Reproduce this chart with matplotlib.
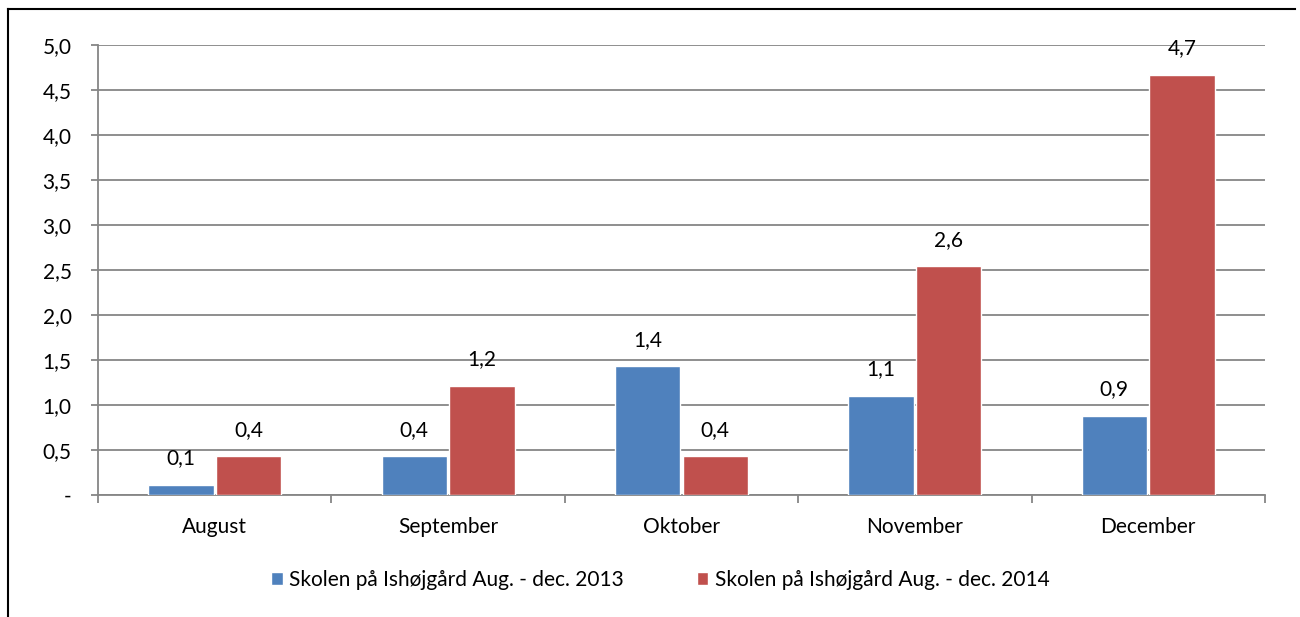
import matplotlib.pyplot as plt
import numpy as np
from matplotlib.lines import Line2D
from matplotlib.ticker import FuncFormatter, MultipleLocator

plt.rcParams['font.family'] = ['Lato', 'DejaVu Sans']

months = ['August', 'September', 'Oktober', 'November', 'December']
vals_2013 = [0.11, 0.43, 1.43, 1.10, 0.88]
vals_2014 = [0.43, 1.21, 0.43, 2.54, 4.67]
labels_2013 = ['0,1', '0,4', '1,4', '1,1', '0,9']
labels_2014 = ['0,4', '1,2', '0,4', '2,6', '4,7']
series_names = ['Skolen på Ishøjgård Aug. - dec. 2013',
                'Skolen på Ishøjgård Aug. - dec. 2014']

blue = '#4F81BD'
red = '#C0504D'
grid = '#868686'
fs = 15

fig = plt.figure(figsize=(13, 6.17), dpi=100)
ax = fig.add_axes([0.0754, 0.1977, 0.8976, 0.7293])

x = np.arange(len(months))
w = 0.28
b1 = ax.bar(x - w / 2 - 0.005, vals_2013, w, color=blue, edgecolor='white',
            linewidth=1, label=series_names[0], zorder=3)
b2 = ax.bar(x + w / 2 + 0.005, vals_2014, w, color=red, edgecolor='white',
            linewidth=1, label=series_names[1], zorder=3)

for bars, labs in [(b1, labels_2013), (b2, labels_2014)]:
    for bar, lab in zip(bars, labs):
        ax.annotate(lab, (bar.get_x() + bar.get_width() / 2, bar.get_height()),
                    xytext=(0, 12), textcoords='offset points',
                    ha='center', va='bottom', fontsize=fs)

ax.set_xlim(-0.5, len(months) - 0.5)
ax.set_ylim(0, 5)
ax.yaxis.set_major_locator(MultipleLocator(0.5))
ax.yaxis.set_major_formatter(FuncFormatter(
    lambda v, p: '-' if abs(v) < 1e-9 else f'{v:.1f}'.replace('.', ',')))
ax.grid(axis='y', color=grid, linewidth=1.3, zorder=0)

ax.set_xticks(np.arange(-0.5, len(months), 1))
ax.set_xticklabels([])
ax.set_xticks(x, minor=True)
ax.set_xticklabels(months, minor=True, fontsize=fs)
ax.tick_params(axis='x', which='minor', length=0, pad=16)
ax.tick_params(axis='x', which='major', length=6, color=grid, width=1.3)
ax.tick_params(axis='y', length=5, color=grid, width=1.3, labelsize=fs, pad=14)

for s in ['top', 'right']:
    ax.spines[s].set_visible(False)
for s in ['left', 'bottom']:
    ax.spines[s].set_color(grid)
    ax.spines[s].set_linewidth(1.3)

fig.legend(handles=[b1, b2], loc='center', bbox_to_anchor=(0.508, 0.06),
           ncol=2, frameon=False, fontsize=fs, handlelength=0.55,
           handleheight=0.55, handletextpad=0.3, columnspacing=3.5)

# outer frame (partly cut in the original)
fig.add_artist(Line2D([8 / 1300, 1295 / 1300], [1 - 9 / 617, 1 - 9 / 617],
                      color='black', linewidth=1.5))
fig.add_artist(Line2D([8 / 1300, 8 / 1300], [0, 1 - 9 / 617],
                      color='black', linewidth=1.5))

fig.savefig('out.png', dpi=100)
